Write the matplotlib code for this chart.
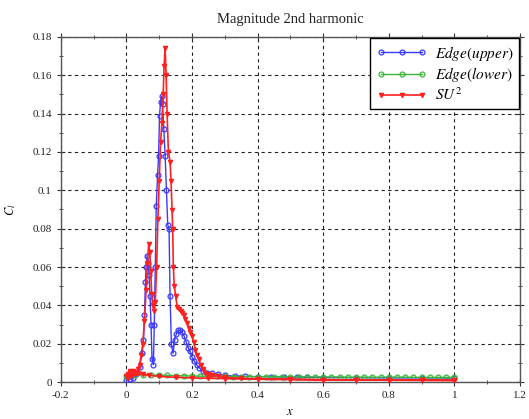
import matplotlib
matplotlib.use("Agg")
import matplotlib.pyplot as plt
from matplotlib.ticker import MultipleLocator, FixedLocator

plt.rcParams['font.family'] = ['Liberation Serif', 'DejaVu Serif']
plt.rcParams['mathtext.fontset'] = 'stix'

title = "Magnitude 2nd harmonic"
xlabel = "$x$"
ylabel = "$C_l$"
series_names = ["$Edge(upper)$", "$Edge(lower)$", "$SU^2$"]

upper_x = [0.0, 0.01, 0.02, 0.03, 0.04, 0.048, 0.052, 0.055, 0.058, 0.06, 0.063, 0.066,
           0.069, 0.072, 0.075, 0.078, 0.082, 0.085, 0.088, 0.091, 0.095, 0.098, 0.101,
           0.104, 0.107, 0.110, 0.114, 0.118, 0.122, 0.126, 0.130, 0.133, 0.137, 0.142,
           0.147, 0.152, 0.158, 0.164, 0.170, 0.176, 0.182, 0.188, 0.194, 0.200, 0.207,
           0.214, 0.222, 0.232, 0.245, 0.26, 0.28, 0.30, 0.33, 0.36, 0.40, 0.44, 0.48,
           0.52, 0.55, 0.60, 0.70, 0.80, 0.90, 1.0]
upper_y = [0.001, 0.0015, 0.002, 0.004, 0.008, 0.015, 0.022, 0.035, 0.052, 0.060, 0.066,
           0.062, 0.056, 0.045, 0.030, 0.012, 0.009, 0.030, 0.060, 0.092, 0.108, 0.118,
           0.139, 0.146, 0.149, 0.145, 0.132, 0.118, 0.100, 0.082, 0.080, 0.045, 0.020,
           0.015, 0.022, 0.025, 0.027, 0.027, 0.026, 0.024, 0.021, 0.018, 0.016, 0.013,
           0.011, 0.009, 0.0075, 0.006, 0.005, 0.0045, 0.004, 0.0035, 0.0032, 0.003,
           0.0029, 0.0028, 0.0027, 0.0026, 0.0025, 0.0024, 0.0023, 0.0022, 0.0022, 0.0021]

lower_x = [0.0, 0.025, 0.05, 0.075, 0.1, 0.125, 0.15, 0.175, 0.2, 0.225, 0.25, 0.275,
           0.3, 0.325, 0.35, 0.375, 0.4, 0.425, 0.45, 0.475, 0.5, 0.525, 0.55, 0.575,
           0.6, 0.625, 0.65, 0.675, 0.7, 0.725, 0.75, 0.775, 0.8, 0.825, 0.85, 0.875,
           0.9, 0.925, 0.95, 0.975, 1.0]
lower_y = [0.003, 0.0035, 0.0038, 0.0037, 0.0036, 0.0035, 0.0034, 0.0033, 0.0032, 0.0031,
           0.003, 0.003, 0.003, 0.0029, 0.0029, 0.0029, 0.0028, 0.0028, 0.0028, 0.0028,
           0.0028, 0.0027, 0.0027, 0.0027, 0.0027, 0.0027, 0.0027, 0.0026, 0.0026, 0.0026,
           0.0026, 0.0026, 0.0026, 0.0026, 0.0026, 0.0025, 0.0025, 0.0025, 0.0025, 0.0025,
           0.0025]

su2_x = [1.0, 0.9, 0.8, 0.7, 0.6, 0.5, 0.4, 0.3, 0.25, 0.2, 0.15, 0.1, 0.07, 0.05,
         0.035, 0.02, 0.01, 0.005, 0.0, 0.005, 0.01, 0.015, 0.02, 0.025, 0.03, 0.035,
         0.04, 0.045, 0.05, 0.055, 0.06, 0.064, 0.068, 0.071, 0.074, 0.077, 0.080,
         0.084, 0.088, 0.092, 0.096, 0.100, 0.104, 0.108, 0.112, 0.115, 0.118, 0.121,
         0.124, 0.128, 0.133, 0.136, 0.139, 0.141, 0.143, 0.146, 0.150, 0.155, 0.160,
         0.165, 0.170, 0.175, 0.180, 0.185, 0.190, 0.195, 0.200, 0.205, 0.210, 0.215,
         0.220, 0.226, 0.232, 0.240, 0.250, 0.260, 0.280, 0.30, 0.35, 0.40, 0.50, 0.60,
         0.70, 0.80, 0.90, 1.0]
su2_y = [0.0008, 0.0009, 0.001, 0.0011, 0.0012, 0.0013, 0.0015, 0.0018, 0.002, 0.0022,
         0.0025, 0.003, 0.0035, 0.004, 0.0045, 0.005, 0.006, 0.004, 0.003, 0.002, 0.005,
         0.003, 0.006, 0.004, 0.005, 0.007, 0.009, 0.014, 0.020, 0.032, 0.048, 0.062,
         0.072, 0.068, 0.058, 0.046, 0.040, 0.037, 0.042, 0.060, 0.085, 0.105, 0.125,
         0.135, 0.150, 0.165, 0.174, 0.160, 0.140, 0.120, 0.115, 0.105, 0.090, 0.080,
         0.060, 0.050, 0.045, 0.039, 0.038, 0.037, 0.036, 0.035, 0.033, 0.031, 0.028,
         0.026, 0.024, 0.021, 0.017, 0.014, 0.012, 0.009, 0.007, 0.005, 0.004, 0.0035,
         0.003, 0.0025, 0.002, 0.0017, 0.0015, 0.0013, 0.0012, 0.0011, 0.001, 0.001]

xticks = [-0.2, 0.0, 0.2, 0.4, 0.6, 0.8, 1.0, 1.2]
xticklabels = ["-0.2", "0", "0.2", "0.4", "0.6", "0.8", "1", "1.2"]
yticks = [0.0, 0.02, 0.04, 0.06, 0.08, 0.1, 0.12, 0.14, 0.16, 0.18]
yticklabels = ["0", "0.02", "0.04", "0.06", "0.08", "0.1", "0.12", "0.14", "0.16", "0.18"]

fig = plt.figure(figsize=(5.29, 4.19), dpi=100)
ax = fig.add_axes([0.115, 0.088, 0.868, 0.824])

ax.plot(upper_x, upper_y, color='#3a3aff', lw=1.0, marker='o', ms=3.5,
        mfc='none', mec='#3a3aff', mew=0.9, label=series_names[0], zorder=3)
ax.plot(lower_x, lower_y, color='#3cb43c', lw=1.0, marker='o', ms=3.5,
        mfc='none', mec='#3cb43c', mew=0.9, label=series_names[1], zorder=3)
ax.plot(su2_x, su2_y, color='#ff2020', lw=1.2, marker='v', ms=3,
        mfc='#ff2020', mec='#ff2020', label=series_names[2], zorder=4)

ax.set_xlim(-0.2, 1.2)
ax.set_ylim(0, 0.18)
ax.xaxis.set_major_locator(FixedLocator(xticks))
ax.set_xticklabels(xticklabels)
ax.yaxis.set_major_locator(FixedLocator(yticks))
ax.set_yticklabels(yticklabels)
ax.xaxis.set_minor_locator(MultipleLocator(0.1))
ax.yaxis.set_minor_locator(MultipleLocator(0.01))
ax.tick_params(which='both', direction='inout', top=True, right=True,
               labelsize=8, colors='#333333', labelcolor='#222222')
ax.tick_params(which='major', length=6, width=0.8)
ax.tick_params(which='minor', length=3, width=0.6)

ax.grid(True, which='major', color='#222222', linestyle=(0, (3, 3)), lw=0.8)
for s in ax.spines.values():
    s.set_color('#555555')
    s.set_linewidth(1.0)

ax.set_title(title, fontsize=10.5, pad=10, color='#222222')
ax.set_xlabel(xlabel, fontsize=9, labelpad=4)
ax.set_ylabel(ylabel, fontsize=9, labelpad=10)

leg = ax.legend(loc='upper right', fontsize=11, numpoints=3, handlelength=3.3,
                fancybox=False, framealpha=1, edgecolor='black',
                borderaxespad=0.05, labelspacing=0.15, handletextpad=0.5,
                borderpad=0.4)
leg.get_frame().set_linewidth(1.0)

fig.savefig("out.png", dpi=100)
